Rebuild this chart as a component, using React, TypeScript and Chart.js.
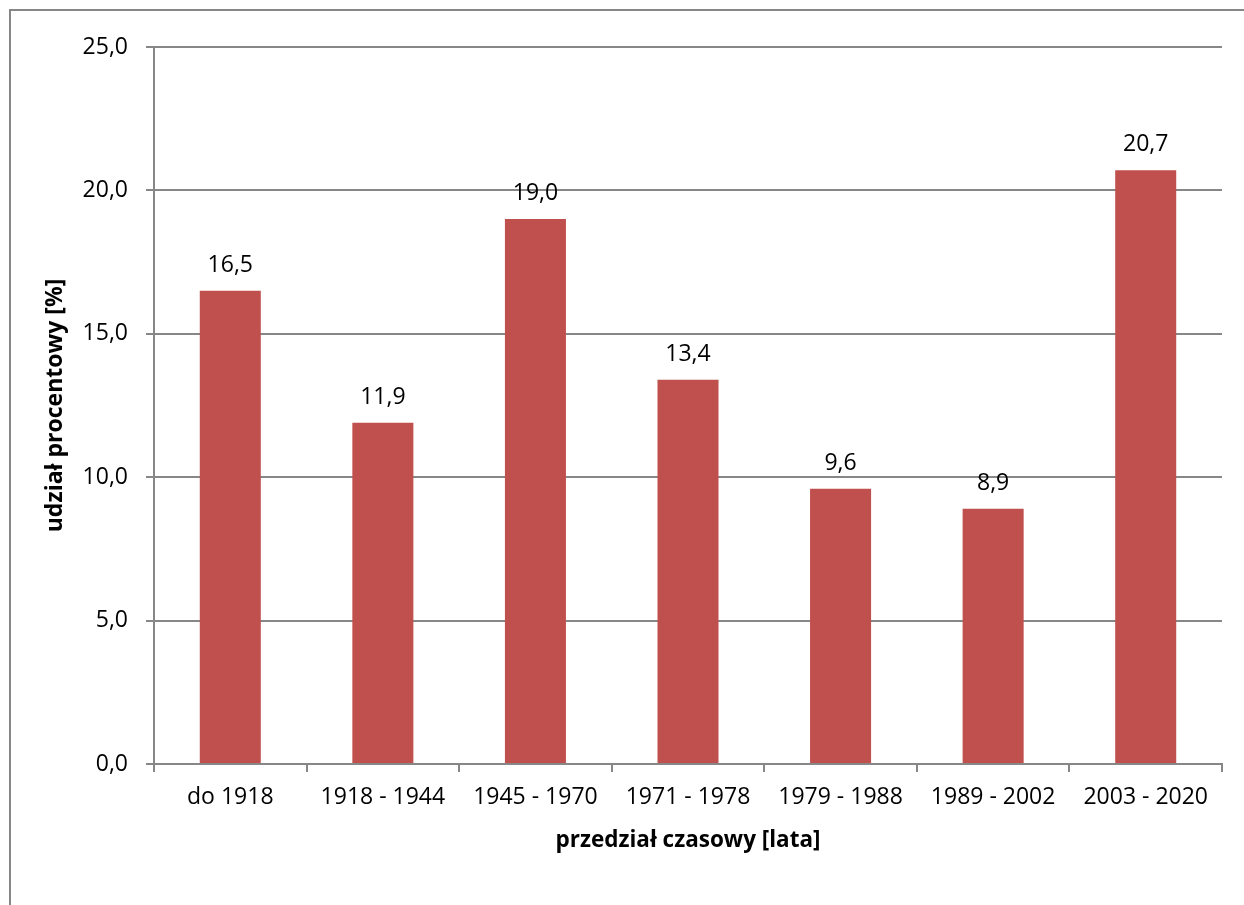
import React, { useEffect, useRef } from "react";
import { Chart, registerables } from "chart.js";

Chart.register(...registerables);

// Time intervals and their percentage share
const categories = [
  "do 1918",
  "1918 - 1944",
  "1945 - 1970",
  "1971 - 1978",
  "1979 - 1988",
  "1989 - 2002",
  "2003 - 2020",
];
const shares = [16.5, 11.9, 19.0, 13.4, 9.6, 8.9, 20.7];
const yTicks = [0, 5, 10, 15, 20, 25];

const FONT = '"Open Sans", "Noto Sans", sans-serif';
const LINE = "#878787";
const BAR = "#C0504D";
const TEXT_SIZE = 23;

const fmt = (v: number) => v.toFixed(1).replace(".", ",");

// Draws the value above each bar
const valueLabels = {
  id: "valueLabels",
  afterDatasetsDraw(chart: any) {
    const { ctx } = chart;
    const meta = chart.getDatasetMeta(0);
    ctx.save();
    ctx.font = `${TEXT_SIZE}px ${FONT}`;
    ctx.fillStyle = "#000";
    ctx.textAlign = "center";
    ctx.textBaseline = "alphabetic";
    meta.data.forEach((bar: any, i: number) => {
      ctx.fillText(fmt(shares[i]), bar.x, bar.y - 19);
    });
    ctx.restore();
  },
};

// Outer frame of the chart
const frame = {
  id: "frame",
  beforeDraw(chart: any) {
    const { ctx, width, height } = chart;
    ctx.save();
    ctx.fillStyle = "#fff";
    ctx.fillRect(0, 0, width, height);
    ctx.strokeStyle = LINE;
    ctx.lineWidth = 2;
    ctx.beginPath();
    ctx.moveTo(10, height + 2);
    ctx.lineTo(10, 10);
    ctx.lineTo(width + 2, 10);
    ctx.stroke();
    ctx.restore();
  },
};

export default function App() {
  const ref = useRef<HTMLCanvasElement>(null);

  useEffect(() => {
    if (!ref.current) return;
    const chart = new Chart(ref.current, {
      type: "bar",
      data: {
        labels: categories,
        datasets: [
          {
            data: shares,
            backgroundColor: BAR,
            borderWidth: 0,
            barPercentage: 0.4,
            categoryPercentage: 1,
          },
        ],
      },
      options: {
        responsive: false,
        animation: false,
        layout: { padding: { left: 0, top: 47, right: 22, bottom: 0 } },
        plugins: {
          legend: { display: false },
          tooltip: { enabled: false },
        },
        scales: {
          x: {
            offset: true,
            grid: {
              offset: true,
              drawOnChartArea: false,
              drawTicks: true,
              tickLength: 8,
              color: LINE,
              lineWidth: 2,
            },
            border: { display: true, color: LINE, width: 2 },
            ticks: {
              color: "#000",
              font: { family: FONT, size: TEXT_SIZE },
              padding: 12,
              maxRotation: 0,
              autoSkip: false,
            },
            title: {
              display: true,
              text: "przedział czasowy [lata]",
              color: "#000",
              font: { family: FONT, size: 22.5, weight: "bold" },
              padding: { top: 0, bottom: 51 },
            },
            afterFit: (scale: any) => {
              scale.height = 141;
            },
          },
          y: {
            min: 0,
            max: 25,
            afterBuildTicks: (scale: any) => {
              scale.ticks = yTicks.map((v) => ({ value: v }));
            },
            grid: {
              drawOnChartArea: true,
              drawTicks: true,
              tickLength: 8,
              color: LINE,
              lineWidth: 2,
            },
            border: { display: true, color: LINE, width: 2 },
            ticks: {
              color: "#000",
              font: { family: FONT, size: TEXT_SIZE },
              padding: 18,
              callback: (v: any) => fmt(Number(v)),
            },
            title: {
              display: true,
              text: "udział procentowy [%]",
              color: "#000",
              font: { family: FONT, size: 23, weight: "bold" },
              padding: { top: 42, bottom: 0 },
            },
            afterFit: (scale: any) => {
              scale.width = 154;
            },
          },
        },
      },
      plugins: [frame, valueLabels],
    });
    return () => chart.destroy();
  }, []);

  return (
    <div style={{ position: "absolute", left: 0, top: 0, width: 1244, height: 905 }}>
      <canvas ref={ref} width={1244} height={905} style={{ display: "block" }} />
    </div>
  );
}
